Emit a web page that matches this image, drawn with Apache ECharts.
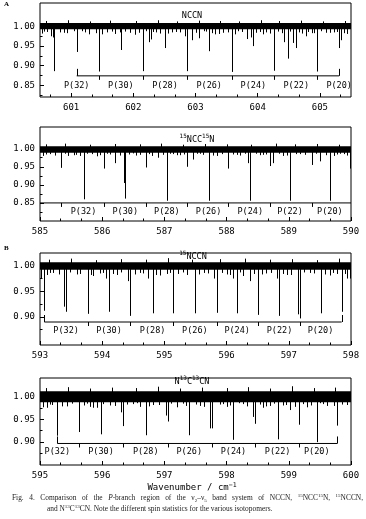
<!DOCTYPE html>
<html><head><meta charset="utf-8">
<script src="https://cdn.jsdelivr.net/npm/echarts@6/dist/echarts.min.js"></script>
<style>html,body{margin:0;padding:0;background:#fff}#c{width:366px;height:519px}</style>
</head><body><div id="c"></div>
<script>
// ================= DATA =================
const branchLabels = ['P(32)','P(30)','P(28)','P(26)','P(24)','P(22)','P(20)'];

const xTicks1 = [601,602,603,604,605];
const xTicks2 = [585,586,587,588,589,590];
const xTicks3 = [593,594,595,596,597,598];
const xTicks4 = [595,596,597,598,599,600];
const yTicks1 = [0.85,0.90,0.95,1.00];
const yTicks2 = [0.85,0.90,0.95,1.00];
const yTicks3 = [0.90,0.95,1.00];
const yTicks4 = [0.90,0.95,1.00];

// --- Panel A: NCCN ---
const nccnEvenX = [601.09,601.80,602.51,603.22,603.93,604.62,605.31];
const nccnEvenY = [0.935,0.940,0.945,0.937,0.950,0.945,0.945];
const nccnOddX  = [600.73,601.45,602.16,602.87,603.58,604.27,604.96];
const nccnOddY  = [0.886,0.885,0.886,0.886,0.884,0.887,0.885];
const nccnWeakX = [600.68,600.71,600.82,601.50,601.79,602.25,602.28,602.62,602.83,602.94,603.06,603.31,603.64,603.83,603.89,603.92,604.42,604.48,604.57,604.78,604.87,605.23,605.34];
const nccnWeakY = [0.975,0.972,0.985,0.980,0.985,0.960,0.967,0.985,0.975,0.965,0.970,0.980,0.980,0.968,0.972,0.958,0.960,0.918,0.958,0.975,0.983,0.985,0.965];
const nccnNoiseX = [600.53,600.61,600.93,601.17,601.28,601.57,601.71,601.87,601.95,602.03,602.32,602.43,602.75,603.13,603.37,603.45,603.74,604.09,604.14,604.39,604.52,604.71,604.81,605.16,605.43,
                    600.57,600.88,601.04,601.22,601.40,601.66,602.09,602.20,602.37,602.56,602.69,603.01,603.17,603.27,603.52,603.69,603.98,604.03,604.20,604.33,604.67,604.91,605.01,605.10,605.28,605.38];
const nccnNoiseY = [0.982,0.986,0.983,0.988,0.980,0.985,0.981,0.987,0.984,0.979,0.986,0.982,0.985,0.988,0.981,0.984,0.986,0.980,0.985,0.983,0.987,0.982,0.986,0.984,0.981,
                    0.987,0.984,0.988,0.985,0.983,0.987,0.984,0.988,0.985,0.982,0.986,0.984,0.987,0.983,0.985,0.988,0.984,0.986,0.982,0.987,0.985,0.983,0.988,0.984,0.986,0.983];
const nccnUpX = [600.60,600.95,601.30,601.62,602.05,602.40,602.70,603.05,603.40,603.70,604.05,604.35,604.70,605.05,605.40];
const nccnUpY = [1.014,1.016,1.013,1.015,1.014,1.016,1.013,1.015,1.014,1.013,1.016,1.014,1.015,1.013,1.014];

// --- Panel A2: 15NCC15N ---
const n15StrongX = [585.70,586.37,587.04,587.71,588.38,589.02,589.66];
const n15StrongY = [0.860,0.862,0.856,0.856,0.856,0.856,0.856];
const n15OddX = [585.34,586.03,586.70,587.37,588.03,588.69,589.37];
const n15OddY = [0.947,0.945,0.948,0.950,0.945,0.952,0.955];
const n15WeakX = [585.45,585.64,586.21,586.35,586.90,587.46,588.35,588.75,589.50,589.72,589.98];
const n15WeakY = [0.980,0.980,0.960,0.905,0.975,0.970,0.960,0.960,0.965,0.980,0.945];
const n15NoiseX = [585.05,585.16,585.54,585.75,585.91,586.13,586.29,586.50,586.61,586.80,587.14,587.25,587.57,587.84,588.11,588.22,588.48,588.59,588.91,589.18,589.50,589.82,589.93,
                   585.09,585.24,585.40,585.58,585.83,585.97,586.08,586.43,586.55,586.75,586.97,587.09,587.20,587.31,587.52,587.62,587.78,587.93,588.17,588.29,588.53,588.64,588.85,588.97,589.12,589.26,589.43,589.60,589.77,589.88];
const n15NoiseY = [0.980,0.985,0.982,0.986,0.979,0.984,0.981,0.987,0.983,0.980,0.985,0.982,0.986,0.980,0.984,0.981,0.986,0.983,0.980,0.985,0.982,0.986,0.981,
                   0.984,0.981,0.986,0.983,0.985,0.982,0.986,0.984,0.981,0.985,0.983,0.986,0.982,0.984,0.986,0.983,0.981,0.985,0.983,0.986,0.982,0.984,0.986,0.981,0.985,0.983,0.986,0.982,0.984,0.985];
const n15UpX = [585.10,585.40,585.80,586.20,586.60,586.95,587.30,587.65,588.00,588.40,588.80,589.10,589.45,589.80];
const n15UpY = [1.012,1.014,1.011,1.013,1.012,1.014,1.011,1.013,1.012,1.011,1.014,1.012,1.013,1.011];

// --- Panel B: 15NCCN ---
const c15EvenX = [593.42,594.11,594.81,595.49,596.17,596.85,597.51];
const c15EvenY = [0.910,0.910,0.907,0.907,0.907,0.902,0.907];
const c15OddX  = [593.07,593.77,594.45,595.14,595.84,596.51,597.18,597.85];
const c15OddY  = [0.912,0.906,0.902,0.907,0.908,0.904,0.897,0.910];
const c15WeakX = [593.01,593.39,594.06,594.42,594.74,595.79,596.11,596.37,596.81,597.15,597.93,597.98];
const c15WeakY = [0.975,0.920,0.975,0.970,0.975,0.975,0.975,0.970,0.975,0.905,0.975,0.975];
const c15NoiseX = [593.11,593.21,593.59,593.86,593.96,594.23,594.61,594.93,595.04,595.36,595.63,596.00,596.27,596.64,596.97,597.34,597.66,597.77,
                   593.16,593.31,593.49,593.65,593.82,594.01,594.17,594.30,594.53,594.66,594.87,595.09,595.22,595.30,595.56,595.70,595.92,596.06,596.22,596.44,596.57,596.72,596.91,597.04,597.25,597.40,597.58,597.71,597.90];
const c15NoiseY = [0.982,0.986,0.983,0.980,0.985,0.982,0.986,0.981,0.984,0.982,0.986,0.983,0.980,0.985,0.982,0.986,0.981,0.984,
                   0.986,0.983,0.987,0.984,0.982,0.986,0.984,0.987,0.983,0.985,0.982,0.986,0.984,0.987,0.983,0.985,0.986,0.982,0.987,0.984,0.983,0.986,0.984,0.982,0.987,0.985,0.983,0.986,0.984];
const c15UpX = [593.15,593.50,593.90,594.30,594.70,595.05,595.45,595.90,596.30,596.70,597.05,597.45,597.80];
const c15UpY = [1.012,1.014,1.011,1.013,1.012,1.015,1.012,1.013,1.014,1.012,1.013,1.011,1.014];

// --- Panel B2: N13C13CN ---
const c13EvenX = [595.28,595.98,596.70,597.40,598.11,598.82,599.45];
const c13EvenY = [0.914,0.917,0.915,0.915,0.905,0.906,0.900];
const c13OddX  = [595.63,596.34,597.05,597.76,598.46,599.17,599.78];
const c13OddY  = [0.922,0.935,0.945,0.930,0.940,0.938,0.936];
const c13WeakX = [595.11,595.91,596.31,597.02,597.73,598.43,598.59,599.02];
const c13WeakY = [0.975,0.975,0.965,0.958,0.930,0.955,0.975,0.970];
const c13NoiseX = [595.05,595.16,595.43,595.75,595.86,596.13,596.50,596.61,596.82,597.20,597.30,597.57,597.89,598.00,598.27,598.64,598.91,599.29,599.55,599.72,599.93,
                   595.20,595.36,595.52,595.70,595.80,596.02,596.21,596.40,596.56,596.76,596.92,597.10,597.35,597.50,597.64,597.95,598.05,598.20,598.33,598.53,598.70,598.77,598.96,599.10,599.23,599.36,599.50,599.62,599.85];
const c13NoiseY = [0.976,0.982,0.978,0.984,0.975,0.980,0.983,0.977,0.981,0.976,0.984,0.979,0.982,0.977,0.983,0.978,0.980,0.976,0.983,0.979,0.981,
                   0.981,0.978,0.984,0.980,0.977,0.983,0.979,0.982,0.985,0.978,0.981,0.984,0.979,0.982,0.977,0.983,0.980,0.985,0.978,0.982,0.979,0.984,0.981,0.977,0.983,0.980,0.985,0.979,0.982];
const c13UpX = [595.10,595.45,595.80,596.15,596.55,596.90,597.25,597.60,598.00,598.35,598.70,599.05,599.40,599.75];
const c13UpY = [1.018,1.020,1.017,1.019,1.018,1.021,1.017,1.019,1.018,1.020,1.017,1.022,1.018,1.019];

// caption words (style key, text)
const captionLine1 = [
  [['n','Fig.']],[['n','4.']],[['n','Comparison']],[['n','of']],[['n','the']],[['i','P'],['n','-branch']],
  [['n','region']],[['n','of']],[['n','the']],[['n','ν'],['b','2'],['n','–ν'],['b','5']],[['n','band']],
  [['n','system']],[['n','of']],[['n','NCCN,']],[['s','15'],['n','NCC'],['s','15'],['n','N,']],[['s','15'],['n','NCCN,']]
];
const captionLine2 = [['n','and N'],['s','13'],['n','C'],['s','13'],['n','CN. Note the different spin statistics for the various isotopomers.']];

// ================= LAYOUT / STYLE =================
const MONO = 'DejaVu Sans Mono';
const SERIF = 'Liberation Serif';
const CAP_FS = 7.4, CAP_SUP = 5.0, CAP_COLOR = '#222';
const panels = [
  {top:3,   height:94, xMin:600.5, xMax:605.5, yMin:0.82,  yMax:1.06,  xT:xTicks1, yT:yTicks1, band:[0.993,1.009],
   even:[nccnEvenX,nccnEvenY], odd:[nccnOddX,nccnOddY], weak:[nccnWeakX,nccnWeakY], noise:[nccnNoiseX,nccnNoiseY], up:[nccnUpX,nccnUpY],
   bracketY:0.874, bracketFrom:nccnEvenX[0], bracketTo:nccnEvenX[6], tickX:nccnOddX.slice(1), endUp:true, labelDy:9.5},
  {top:127, height:94, xMin:585,   xMax:590,   yMin:0.80,  yMax:1.06,  xT:xTicks2, yT:yTicks2, band:[0.989,1.007],
   even:[n15StrongX,n15StrongY], odd:[n15OddX,n15OddY], weak:[n15WeakX,n15WeakY], noise:[n15NoiseX,n15NoiseY], up:[n15UpX,n15UpY],
   bracketY:0.850, bracketFrom:585, bracketTo:590, tickX:n15OddX, endUp:false, labelDy:8.5},
  {top:253, height:92, xMin:593,   xMax:598,   yMin:0.845, yMax:1.025, xT:xTicks3, yT:yTicks3, band:[0.992,1.007],
   even:[c15EvenX,c15EvenY], odd:[c15OddX,c15OddY], weak:[c15WeakX,c15WeakY], noise:[c15NoiseX,c15NoiseY], up:[c15UpX,c15UpY],
   bracketY:0.890, bracketFrom:c15OddX[0], bracketTo:c15OddX[7], tickX:c15OddX.slice(1,7), endUp:true, labelDy:9},
  {top:378, height:87, xMin:595,   xMax:600,   yMin:0.85,  yMax:1.04,  xT:xTicks4, yT:yTicks4, band:[0.987,1.011],
   even:[c13EvenX,c13EvenY], odd:[c13OddX,c13OddY], weak:[c13WeakX,c13WeakY], noise:[c13NoiseX,c13NoiseY], up:[c13UpX,c13UpY],
   bracketY:0.897, bracketFrom:c13EvenX[0], bracketTo:c13OddX[6], tickX:c13OddX.slice(0,6), endUp:true, labelDy:8.5}
];

function thirds(min, max) {
  const out = [];
  for (let k = Math.ceil(min * 3); k <= Math.floor(max * 3); k++) {
    if (k % 3 !== 0) out.push(k / 3);
  }
  return out;
}
function halves(vals) { return vals.map(v => +(v + 0.025).toFixed(3)); }

const option = { animation:false, backgroundColor:'#fff', grid:[], xAxis:[], yAxis:[], series:[], graphic:[] };

function vlineSeries(ai, xs, ys, base, lw) {
  return {
    type:'custom', xAxisIndex:ai, yAxisIndex:ai, silent:true, clip:true,
    data: xs.map((x,i)=>[x, ys[i]]),
    renderItem:(p, api) => {
      const a = api.coord([api.value(0), base]);
      const b = api.coord([api.value(0), api.value(1)]);
      const x = Math.round(a[0]) + 0.5;
      return {type:'line', shape:{x1:x, y1:a[1], x2:x, y2:b[1]}, style:{stroke:'#000', lineWidth:lw}};
    }
  };
}

panels.forEach((P, gi) => {
  const ai = gi * 2;
  option.grid.push({left:40, width:311, top:P.top, height:P.height, containLabel:false, outerBoundsMode:'none',
    show:true, borderColor:'#000', borderWidth:1, backgroundColor:'transparent'});
  const minorX = thirds(P.xMin, P.xMax);
  option.xAxis.push({
    gridIndex:gi, type:'value', min:P.xMin, max:P.xMax, position:'bottom',
    axisLine:{show:false}, splitLine:{show:false},
    axisTick:{inside:true, length:4, customValues:P.xT, lineStyle:{color:'#000'}},
    axisLabel:{customValues:P.xT, margin:6, color:'#000', fontFamily:MONO, fontSize:9, formatter:v=>String(v)}
  });
  option.xAxis.push({
    gridIndex:gi, type:'value', min:P.xMin, max:P.xMax, position:'bottom',
    axisLine:{show:false}, splitLine:{show:false}, axisLabel:{show:false},
    axisTick:{inside:true, length:2.5, customValues:minorX, lineStyle:{color:'#000'}}
  });
  option.yAxis.push({
    gridIndex:gi, type:'value', min:P.yMin, max:P.yMax, position:'left',
    axisLine:{show:false}, splitLine:{show:false},
    axisTick:{inside:true, length:4, customValues:P.yT, lineStyle:{color:'#000'}},
    axisLabel:{customValues:P.yT, margin:5, color:'#000', fontFamily:MONO, fontSize:9, formatter:v=>v.toFixed(2)},
    name:'Transmittance', nameLocation:'middle', nameGap:27,
    nameTextStyle:{fontFamily:MONO, fontSize:9, color:'#000'}
  });
  option.yAxis.push({
    gridIndex:gi, type:'value', min:P.yMin, max:P.yMax, position:'left',
    axisLine:{show:false}, splitLine:{show:false}, axisLabel:{show:false},
    axisTick:{inside:true, length:2.5, customValues:halves(P.yT.slice(0,-1)).concat([+(P.yT[0]-0.025).toFixed(3)]).filter(v=>v>P.yMin), lineStyle:{color:'#000'}}
  });

  // noise band
  option.series.push({
    type:'custom', xAxisIndex:ai, yAxisIndex:ai, silent:true, clip:true,
    data:[[P.xMin, P.band[0], P.xMax, P.band[1]]],
    renderItem:(p, api) => {
      const a = api.coord([api.value(0), api.value(3)]);
      const b = api.coord([api.value(2), api.value(1)]);
      return {type:'rect', shape:{x:a[0], y:a[1], width:b[0]-a[0], height:b[1]-a[1]}, style:{fill:'#000'}};
    }
  });
  option.series.push(vlineSeries(ai, P.up[0], P.up[1], 1.0, 1));
  option.series.push(vlineSeries(ai, P.noise[0], P.noise[1], 1.0, 1));
  option.series.push(vlineSeries(ai, P.weak[0], P.weak[1], 1.0, 1));
  option.series.push(vlineSeries(ai, P.odd[0], P.odd[1], 1.0, 1));
  option.series.push(vlineSeries(ai, P.even[0], P.even[1], 1.0, 1));

  // bracket horizontal
  option.series.push({
    type:'line', xAxisIndex:ai, yAxisIndex:ai, silent:true, symbol:'none',
    data:[[P.bracketFrom, P.bracketY],[P.bracketTo, P.bracketY]],
    lineStyle:{color:'#000', width:1}
  });
  // bracket ticks
  const tickData = P.tickX.map(x=>[x, P.bracketY, 1]);
  if (P.endUp) { tickData.push([P.bracketFrom, P.bracketY, -1]); tickData.push([P.bracketTo, P.bracketY, -1]); }
  option.series.push({
    type:'custom', xAxisIndex:ai, yAxisIndex:ai, silent:true, clip:true,
    data:tickData,
    renderItem:(p, api) => {
      const a = api.coord([api.value(0), api.value(1)]);
      const x = Math.round(a[0]) + 0.5;
      const len = api.value(2) > 0 ? 4 : -7;
      return {type:'line', shape:{x1:x, y1:a[1], x2:x, y2:a[1]+len}, style:{stroke:'#000', lineWidth:1}};
    }
  });
  // branch labels
  option.series.push({
    type:'custom', xAxisIndex:ai, yAxisIndex:ai, silent:true, clip:false,
    data:P.even[0].map(x=>[x, P.bracketY]),
    renderItem:(p, api) => {
      const a = api.coord([api.value(0), api.value(1)]);
      return {type:'text', x:a[0], y:a[1] + P.labelDy,
        style:{text:branchLabels[p.dataIndex], fontFamily:MONO, fontSize:8.5, fill:'#000', align:'center', verticalAlign:'middle'}};
    }
  });
});

const supStyle = {fontFamily:MONO, fontSize:6, lineHeight:6, verticalAlign:'top', fill:'#000'};
const monoN = {fontFamily:MONO, fontSize:8.5, lineHeight:11, verticalAlign:'bottom', fill:'#000'};
function titleText(x, y, txt) {
  return {type:'text', x:x, y:y, silent:true,
    style:{text:txt, fontFamily:MONO, fontSize:8.5, fill:'#000', align:'center', verticalAlign:'middle', rich:{s:supStyle, n:monoN}}};
}

// caption: justified first line
const capRich = {
  n:{fontFamily:SERIF, fontSize:CAP_FS, lineHeight:10, verticalAlign:'middle', fill:CAP_COLOR},
  i:{fontFamily:SERIF, fontSize:CAP_FS, fontStyle:'italic', lineHeight:10, verticalAlign:'middle', fill:CAP_COLOR},
  s:{fontFamily:SERIF, fontSize:CAP_SUP, lineHeight:6, verticalAlign:'top', fill:CAP_COLOR},
  b:{fontFamily:SERIF, fontSize:CAP_SUP, lineHeight:6, verticalAlign:'bottom', fill:CAP_COLOR}
};
const mctx = document.createElement('canvas').getContext('2d');
function tokW(st, t) {
  const fs = (st === 's' || st === 'b') ? CAP_SUP : CAP_FS;
  mctx.font = (st === 'i' ? 'italic ' : '') + fs + 'px "' + SERIF + '"';
  return mctx.measureText(t).width;
}
const line1Left = 12, line1Right = 363;
let natural = 0;
captionLine1.forEach(w => w.forEach(([st,t]) => { natural += tokW(st,t); }));
const gap = (line1Right - line1Left - natural) / (captionLine1.length - 1);
capRich.g = {width: gap, fontSize:CAP_FS, lineHeight:10};
const line1Text = captionLine1.map(w => w.map(([st,t]) => '{' + st + '|' + t + '}').join('')).join('{g| }');
const line2Text = captionLine2.map(([st,t]) => '{' + st + '|' + t + '}').join('');

option.graphic = [
  titleText(192, 15, '{n|NCCN}'),
  titleText(197, 139, '{s|15}{n|NCC}{s|15}{n|N}'),
  titleText(193, 256, '{s|15}{n|NCCN}'),
  titleText(192, 381, '{n|N}{s|13}{n|C}{s|13}{n|CN}'),
  {type:'text', x:4, y:1, silent:true, style:{text:'A', fontFamily:SERIF, fontWeight:'bold', fontSize:7, fill:'#000'}},
  {type:'text', x:4, y:245, silent:true, style:{text:'B', fontFamily:SERIF, fontWeight:'bold', fontSize:7, fill:'#000'}},
  {type:'text', x:192, y:487, silent:true,
    style:{text:'{n|Wavenumber / cm}{s|−1}', fontFamily:MONO, fontSize:9, fill:'#000', align:'center', verticalAlign:'middle',
      rich:{n:{fontFamily:MONO, fontSize:9, lineHeight:11, verticalAlign:'bottom', fill:'#000'}, s:{fontFamily:MONO, fontSize:6.5, lineHeight:6, verticalAlign:'top', fill:'#000'}}}},
  {type:'text', x:line1Left, y:498, silent:true,
    style:{text:line1Text, fontFamily:SERIF, fontSize:CAP_FS, fill:CAP_COLOR, align:'left', verticalAlign:'middle', rich:capRich}},
  {type:'text', x:47, y:509, silent:true,
    style:{text:line2Text, fontFamily:SERIF, fontSize:CAP_FS, fill:CAP_COLOR, align:'left', verticalAlign:'middle', rich:capRich}}
];

const chart = echarts.init(document.getElementById('c'), null, {renderer:'canvas', width:366, height:519});
chart.setOption(option);
</script></body></html>
